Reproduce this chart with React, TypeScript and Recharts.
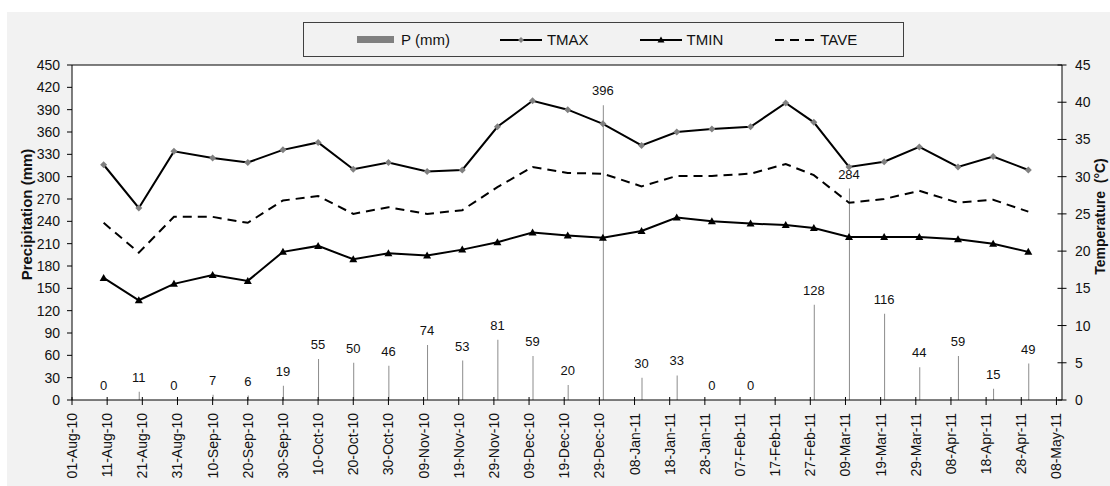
import { ComposedChart, Bar, Line, XAxis, YAxis, CartesianGrid, Legend, LabelList, ReferenceLine } from 'recharts'

// dekad dates (10th, 20th, 30th / 28-Feb)
const DATES = [
  '2010-08-10', '2010-08-20', '2010-08-30', '2010-09-10', '2010-09-20', '2010-09-30',
  '2010-10-10', '2010-10-20', '2010-10-30', '2010-11-10', '2010-11-20', '2010-11-30',
  '2010-12-10', '2010-12-20', '2010-12-30', '2011-01-10', '2011-01-20', '2011-01-30',
  '2011-02-10', '2011-02-20', '2011-02-28', '2011-03-10', '2011-03-20', '2011-03-30',
  '2011-04-10', '2011-04-20', '2011-04-30',
]
const P_MM = [0, 11, 0, 7, 6, 19, 55, 50, 46, 74, 53, 81, 59, 20, 396, 30, 33, 0, 0, null, 128, 284, 116, 44, 59, 15, 49]
const TMAX = [31.6, 25.8, 33.4, 32.5, 31.9, 33.6, 34.6, 31.0, 31.9, 30.7, 30.9, 36.7, 40.2, 39.0, 37.1, 34.2, 36.0, 36.4, 36.7, 39.9, 37.3, 31.3, 32.0, 34.0, 31.3, 32.7, 30.9]
const TMIN = [16.4, 13.4, 15.6, 16.8, 16.0, 19.9, 20.7, 18.9, 19.7, 19.4, 20.2, 21.2, 22.5, 22.1, 21.8, 22.7, 24.5, 24.0, 23.7, 23.5, 23.1, 21.9, 21.9, 21.9, 21.6, 21.0, 19.9]
const TAVE = [23.8, 19.8, 24.6, 24.6, 23.8, 26.8, 27.4, 25.0, 25.9, 25.0, 25.5, 28.6, 31.3, 30.5, 30.4, 28.7, 30.1, 30.1, 30.4, 31.7, 30.2, 26.5, 27.0, 28.1, 26.5, 26.9, 25.3]

const X_TICKS = [
  '2010-08-01', '2010-08-11', '2010-08-21', '2010-08-31', '2010-09-10', '2010-09-20', '2010-09-30',
  '2010-10-10', '2010-10-20', '2010-10-30', '2010-11-09', '2010-11-19', '2010-11-29', '2010-12-09',
  '2010-12-19', '2010-12-29', '2011-01-08', '2011-01-18', '2011-01-28', '2011-02-07', '2011-02-17',
  '2011-02-27', '2011-03-09', '2011-03-19', '2011-03-29', '2011-04-08', '2011-04-18', '2011-04-28',
  '2011-05-08',
]
const P_TICKS = [0, 30, 60, 90, 120, 150, 180, 210, 240, 270, 300, 330, 360, 390, 420, 450]
const T_TICKS = [0, 5, 10, 15, 20, 25, 30, 35, 40, 45]
const X_DOMAIN = ['2010-08-01T00:00:00Z', '2011-05-09T14:00:00Z']

const MONTHS = ['Jan', 'Feb', 'Mar', 'Apr', 'May', 'Jun', 'Jul', 'Aug', 'Sep', 'Oct', 'Nov', 'Dec']
const FONT = '"Liberation Sans", Arial, sans-serif'
const ts = (s: string) => Date.parse(s.length === 10 ? s + 'T00:00:00Z' : s)
const fmtDate = (v: number) => {
  const d = new Date(v)
  const dd = String(d.getUTCDate()).padStart(2, '0')
  const yy = String(d.getUTCFullYear() % 100).padStart(2, '0')
  return `${dd}-${MONTHS[d.getUTCMonth()]}-${yy}`
}

const data = DATES.map((d, i) => ({ t: ts(d), p: P_MM[i], tmax: TMAX[i], tmin: TMIN[i], tave: TAVE[i] }))

const DateTick = ({ x, y, payload }: any) => (
  <g transform={`translate(${x},${y})`}>
    <line y1={-3} y2={5} stroke="#000" />
    <text transform="rotate(-90)" x={-13} y={0} dy={5} textAnchor="end" fontSize={14} fill="#111" fontFamily={FONT}>
      {fmtDate(payload.value)}
    </text>
  </g>
)

const TempTick = ({ x, y, payload }: any) => (
  <g>
    <line x1={x - 4.5} x2={x + 4.5} y1={y} y2={y} stroke="#000" />
    <text x={x + 13} y={y} dy={5} textAnchor="start" fontSize={14} fill="#111" fontFamily={FONT}>{payload.value}</text>
  </g>
)

const Diamond = ({ cx, cy, index }: any) =>
  cx == null ? null : <path key={index} d={`M${cx},${cy - 3.5}L${cx + 3.5},${cy}L${cx},${cy + 3.5}L${cx - 3.5},${cy}Z`} fill="#808080" />
const Triangle = ({ cx, cy, index }: any) =>
  cx == null ? null : <path key={index} d={`M${cx},${cy - 4}L${cx + 4},${cy + 3}L${cx - 4},${cy + 3}Z`} fill="#000" />

// labels ride on an invisible line over the bar tops, so zero values get a label too
const PLabel = ({ x, y, value }: any) =>
  value == null || x == null ? null : (
    <text x={x} y={y - 10} textAnchor="middle" fontSize={13} fill="#111" fontFamily={FONT}>{value}</text>
  )

const renderLegend = () => (
  <div style={{ display: 'flex', alignItems: 'center', height: 35, boxSizing: 'border-box', border: '1px solid #404040', background: '#f2f2f2', paddingLeft: 53, fontSize: 15, fontFamily: FONT, color: '#111' }}>
    <svg width={37} height={8}><rect width={37} height={7} fill="#808080" /></svg>
    <span style={{ marginLeft: 7, marginRight: 50 }}>P (mm)</span>
    <svg width={42} height={10}>
      <line x1={0} x2={42} y1={5} y2={5} stroke="#000" strokeWidth={2} />
      <path d="M21,2L24,5L21,8L18,5Z" fill="#808080" />
    </svg>
    <span style={{ marginLeft: 5, marginRight: 51 }}>TMAX</span>
    <svg width={42} height={10}>
      <line x1={0} x2={42} y1={5} y2={5} stroke="#000" strokeWidth={2} />
      <path d="M21,1.5L24.5,7.5L17.5,7.5Z" fill="#000" />
    </svg>
    <span style={{ marginLeft: 5, marginRight: 51 }}>TMIN</span>
    <svg width={42} height={10}>
      <line x1={1} x2={42} y1={5} y2={5} stroke="#000" strokeWidth={2} strokeDasharray="9 6" />
    </svg>
    <span style={{ marginLeft: 4 }}>TAVE</span>
  </div>
)

export default function App() {
  return (
    <div style={{ position: 'absolute', left: 0, top: 0, width: 1110, height: 486, background: '#fff', overflow: 'hidden' }}>
      <div style={{ position: 'absolute', left: 7, top: 12, right: 0, bottom: 0, background: '#f2f2f2' }} />
      <div style={{ position: 'absolute', left: 0, top: 0 }}>
        <ComposedChart width={1110} height={486} data={data} margin={{ top: 65, right: 0, bottom: 0, left: 0 }}>
          <CartesianGrid fill="#fff" stroke="none" horizontal={false} vertical={false} yAxisId="p" />
          <XAxis
            dataKey="t" type="number" domain={X_DOMAIN.map(ts)} ticks={X_TICKS.map(ts)} interval={0}
            height={86} tickSize={0} tickMargin={0} tickLine={false}
            axisLine={{ stroke: '#000' }} tick={<DateTick />} allowDataOverflow
          />
          <YAxis
            yAxisId="p" orientation="left" width={72} domain={[0, 450]} ticks={P_TICKS} interval={0}
            tickSize={5} tickMargin={7} axisLine={{ stroke: '#000' }} tickLine={{ stroke: '#000' }}
            tick={{ fontSize: 14, fill: '#111', fontFamily: FONT }}
            label={({ viewBox }: any) => (
              <text transform={`translate(${viewBox.x + 32},${viewBox.y + viewBox.height / 2 - 18}) rotate(-90)`} textAnchor="middle" fontSize={15} fontWeight="bold" fill="#111" fontFamily={FONT}>
                Precipitation (mm)
              </text>
            )}
          />
          <YAxis
            yAxisId="t" orientation="right" width={48} domain={[0, 45]} ticks={T_TICKS} interval={0}
            tickSize={0} tickMargin={0} tickLine={false} axisLine={{ stroke: '#000' }} tick={<TempTick />}
            label={({ viewBox }: any) => (
              <text transform={`translate(${viewBox.x + 43},${viewBox.y + viewBox.height / 2 - 16}) rotate(-90)`} textAnchor="middle" fontSize={14} fontWeight="bold" fill="#111" fontFamily={FONT} style={{ whiteSpace: 'pre' }}>
                {'Temperature  (°C)'}
              </text>
            )}
          />
          <ReferenceLine yAxisId="p" y={450} stroke="#000" />
          <Legend
            verticalAlign="middle" align="center" layout="horizontal" content={renderLegend}
            wrapperStyle={{ top: 22, left: 303, width: 601, height: 35 }}
          />
          <Bar yAxisId="p" dataKey="p" name="P (mm)" fill="#8c8c8c" barSize={1} isAnimationActive={false} />
          <Line yAxisId="p" dataKey="p" legendType="none" stroke="none" dot={false} activeDot={false} isAnimationActive={false}>
            <LabelList dataKey="p" content={<PLabel />} />
          </Line>
          <Line yAxisId="t" dataKey="tmax" name="TMAX" stroke="#000" strokeWidth={2} dot={<Diamond />} activeDot={false} isAnimationActive={false} />
          <Line yAxisId="t" dataKey="tmin" name="TMIN" stroke="#000" strokeWidth={2} dot={<Triangle />} activeDot={false} isAnimationActive={false} />
          <Line yAxisId="t" dataKey="tave" name="TAVE" stroke="#000" strokeWidth={2} strokeDasharray="9 6" dot={false} activeDot={false} isAnimationActive={false} />
        </ComposedChart>
      </div>
    </div>
  )
}
